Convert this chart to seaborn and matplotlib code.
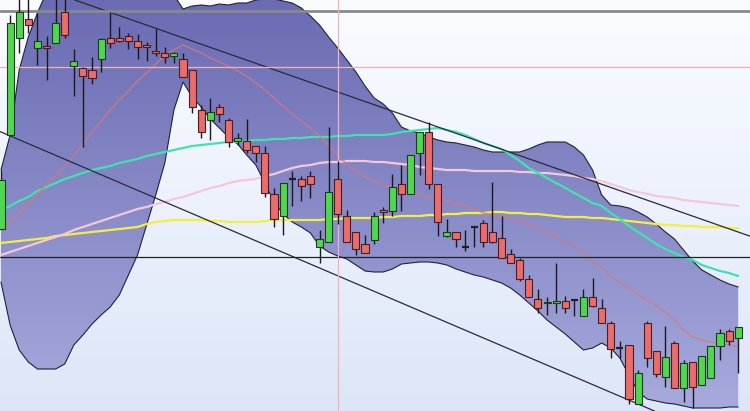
import numpy as np
import pandas as pd
import matplotlib
matplotlib.use("Agg")
import matplotlib.pyplot as plt
from matplotlib.colors import LinearSegmentedColormap
from matplotlib.patches import Polygon
import seaborn as sns

sns.set_style("white")

# ===========================
# DATA
# ===========================

opens = [182, 276, 373, 392, 363, 365, 368, 399, 345, 343, 341, 352, 373, 373, 375, 370,
         366, 360, 358, 355, 352, 341, 301, 291, 304, 291, 270, 270, 265, 258, 217, 195,
         232, 232, 235, 164, 169, 232, 195, 179, 167, 171, 201, 200, 227, 217, 258, 279,
         227, 175, 179, 164, 184, 188, 179, 173, 157, 151, 132, 112, 108, 108, 110, 111,
         95, 114, 103, 88, 63, 66, 7, 88, 60, 34, 68, 23, 49, 26, 33, 65, 80, 73]
highs = [241, 396, 416, 416, 398, 375, 416, 416, 362, 344, 354, 373, 399, 384, 378, 377,
         369, 382, 364, 359, 358, 341, 306, 313, 307, 293, 278, 292, 265, 265, 223, 228,
         240, 235, 240, 181, 284, 250, 201, 179, 176, 199, 204, 237, 246, 256, 279, 289,
         227, 192, 179, 181, 184, 191, 229, 195, 162, 153, 136, 122, 114, 148, 115, 111,
         122, 133, 112, 90, 70, 66, 41, 90, 60, 85, 70, 51, 49, 55, 65, 82, 82, 84]
lows = [182, 276, 358, 378, 346, 331, 368, 373, 315, 264, 327, 339, 363, 369, 362, 352,
        350, 355, 348, 348, 334, 298, 273, 271, 289, 264, 266, 258, 249, 214, 184, 176,
        205, 210, 213, 148, 169, 187, 169, 156, 158, 167, 188, 195, 200, 217, 236, 222,
        175, 174, 164, 160, 164, 164, 168, 153, 148, 130, 114, 98, 96, 98, 98, 95,
        95, 104, 88, 53, 53, 7, 7, 44, 34, 24, 23, 9, 3, 26, 33, 51, 66, 38]
closes = [231, 388, 399, 386, 370, 363, 388, 376, 350, 335, 333, 372, 368, 370, 370, 364,
          364, 358, 354, 358, 334, 304, 279, 299, 297, 269, 273, 261, 258, 218, 192, 228,
          232, 225, 227, 172, 219, 197, 169, 162, 158, 195, 199, 224, 217, 256, 279, 227,
          189, 179, 172, 164, 184, 169, 169, 153, 148, 132, 114, 103, 109, 110, 103, 111,
          114, 105, 88, 62, 63, 12, 38, 53, 37, 54, 23, 48, 24, 55, 65, 78, 70, 84]

band_upper = [241, 276, 341, 374, 398, 419, 441, 461, 476, 486, 491, 493, 491, 486, 479, 469,
              456, 443, 429, 416, 402, 405, 406, 405, 407, 406, 408, 408, 411, 412, 412, 410,
              408, 403, 395, 386, 374, 363, 351, 339, 325, 313, 307, 298, 284, 280, 278, 274,
              271, 269, 268, 266, 264, 261, 259, 259, 259, 259, 262, 266, 269, 269, 269, 264,
              256, 241, 216, 206, 205, 203, 199, 194, 187, 179, 172, 161, 150, 141, 136, 131,
              127, 124]
band_lower = [129, 86, 61, 49, 42, 42, 42, 47, 66, 76, 87, 96, 104, 116, 136, 156,
              186, 216, 248, 301, 329, 314, 304, 292, 283, 274, 267, 256, 246, 228, 209, 197,
              189, 184, 178, 165, 159, 155, 152, 146, 140, 139, 139, 142, 147, 148, 149, 149,
              148, 146, 142, 139, 136, 134, 131, 128, 123, 116, 108, 100, 91, 84, 77, 69,
              61, 63, 68, 63, 53, 36, 19, 12, 10, 8, 7, 5, 3, 3, 3, 3,
              4, 4]

ma_fast = [181, 189, 198, 207, 217, 227, 236, 245, 255, 267, 279, 290, 301, 311, 320, 330,
           338, 347, 355, 361, 366, 362, 358, 353, 349, 345, 340, 335, 328, 321, 313, 305,
           297, 290, 283, 275, 266, 256, 247, 239, 234, 230, 226, 223, 221, 219, 217, 215,
           213, 210, 207, 205, 202, 198, 196, 194, 192, 190, 187, 183, 179, 174, 169, 164,
           158, 149, 144, 134, 129, 123, 117, 111, 105, 99, 91, 81, 74, 71, 69, 67,
           66, 64]
ma_teal = [201, 205, 210, 214, 220, 224, 228, 232, 235, 238, 241, 243, 245, 248, 250, 252,
           255, 257, 259, 261, 263, 265, 266, 267, 268, 269, 269, 270, 271, 271, 272, 272,
           273, 273, 274, 274, 274, 275, 275, 276, 276, 276, 276, 277, 279, 280, 281, 282,
           283, 281, 279, 276, 272, 268, 265, 262, 256, 250, 243, 238, 233, 228, 223, 218,
           213, 208, 205, 198, 192, 185, 179, 173, 167, 162, 158, 154, 151, 146, 143, 140,
           138, 135]
ma_pink = [156, 159, 162, 165, 168, 171, 174, 177, 181, 184, 187, 190, 193, 196, 199, 202,
           204, 207, 209, 212, 214, 217, 220, 223, 225, 228, 230, 231, 232, 235, 237, 240,
           243, 245, 246, 248, 249, 249, 250, 250, 250, 249, 249, 248, 247, 246, 244, 243,
           242, 241, 241, 241, 240, 240, 240, 240, 240, 239, 239, 238, 238, 237, 236, 235,
           233, 232, 230, 227, 224, 221, 219, 217, 215, 214, 213, 211, 210, 209, 208, 207,
           206, 205]
ma_yellow = [168, 169, 170, 171, 172, 173, 175, 176, 177, 178, 179, 180, 181, 182, 183, 184,
             187, 189, 190, 191, 191, 191, 191, 190, 190, 189, 189, 189, 189, 190, 191, 191,
             191, 191, 191, 191, 192, 192, 193, 193, 193, 193, 194, 194, 195, 195, 195, 196,
             196, 197, 197, 198, 198, 198, 199, 199, 198, 198, 197, 197, 196, 195, 194, 194,
             194, 193, 193, 192, 191, 190, 189, 188, 187, 186, 186, 185, 185, 184, 184, 184,
             183, 183]

# trend channel anchors (candle index, price)
trend_upper = [(10, 405), (70, 214)]
trend_lower = [(0, 279), (70, 7)]

# horizontal levels and crosshair
level_gray = 400
level_black = 154
cross_price = 344
cross_index = 37

# ===========================
# SETUP
# ===========================

n = len(opens)
idx = np.arange(n)
o = np.array(opens, float)
h = np.array(highs, float)
l = np.array(lows, float)
c = np.array(closes, float)

XMIN, XMAX = -0.11, 82.3
YMIN, YMAX = 0, 411

fig = plt.figure(figsize=(7.5, 4.11), dpi=100)
ax = fig.add_axes([0, 0, 1, 1])
ax.set_axis_off()

# background gradient
bg_cmap = LinearSegmentedColormap.from_list("bg", ["#dde6f8", "#fbfcff"])
grad = np.linspace(0, 1, 256).reshape(-1, 1)
ax.imshow(grad, cmap=bg_cmap, extent=(XMIN, XMAX, YMIN, YMAX),
          aspect="auto", origin="lower", zorder=0)

# bollinger band with gradient fill
band_cmap = LinearSegmentedColormap.from_list("band", ["#a6aadc", "#6a6bb3"])
verts = np.vstack([np.column_stack([idx, band_upper]),
                   np.column_stack([idx[::-1], band_lower[::-1]])])
band_patch = Polygon(verts, closed=True, facecolor="none", edgecolor="none")
ax.add_patch(band_patch)
band_img = ax.imshow(grad, cmap=band_cmap, extent=(XMIN, XMAX, YMIN, YMAX),
                     aspect="auto", origin="lower", zorder=1)
band_img.set_clip_path(band_patch)

ax.plot(idx, band_upper, color="#222233", lw=0.8, zorder=2)
ax.plot(idx, band_lower, color="#222233", lw=0.8, zorder=2)

# moving averages
ma_df = pd.DataFrame({
    "idx": np.tile(idx, 3),
    "value": np.concatenate([ma_yellow, ma_pink, ma_teal]),
    "series": np.repeat(["yellow", "pink", "teal"], n),
})
palette = {"yellow": "#f2f03c", "pink": "#f4c8d8", "teal": "#3fe3ad"}
sns.lineplot(data=ma_df, x="idx", y="value", hue="series", palette=palette,
             legend=False, ax=ax, linewidth=1.6, zorder=3)
sns.lineplot(x=idx, y=ma_fast, color="#d87878", alpha=0.75,
             linewidth=1.1, ax=ax, zorder=3)

# trend channel
ax.axline(trend_upper[0], trend_upper[1], color="#2a2a3a", lw=0.9, zorder=4)
ax.axline(trend_lower[0], trend_lower[1], color="#2a2a3a", lw=0.9, zorder=4)

# levels
ax.axhline(level_gray, color="#8a8a8a", lw=2, zorder=4)
ax.axhline(level_black, color="#222222", lw=0.9, zorder=4)
ax.axhline(cross_price, color="#f0b4b4", lw=0.9, zorder=4)
ax.axvline(cross_index, color="#f0b4b4", lw=0.9, zorder=4)

# ===========================
# CANDLES
# ===========================

ax.vlines(idx, l, h, color="#1a1a1a", lw=1, zorder=5)

up = c > o
down = c < o
flat = c == o
body_w = 0.78

ax.bar(idx[up], (c - o)[up], bottom=o[up], width=body_w,
       color="#4fd84f", edgecolor="#1f3a1f", linewidth=0.8, zorder=6)
ax.bar(idx[down], (o - c)[down], bottom=c[down], width=body_w,
       color="#ea6c6c", edgecolor="#4a1f1f", linewidth=0.8, zorder=6)
ax.hlines(o[flat], idx[flat] - body_w / 2, idx[flat] + body_w / 2,
          color="#222222", lw=1.6, zorder=6)

ax.set_xlim(XMIN, XMAX)
ax.set_ylim(YMIN, YMAX)

plt.savefig("out.png", dpi=100)
